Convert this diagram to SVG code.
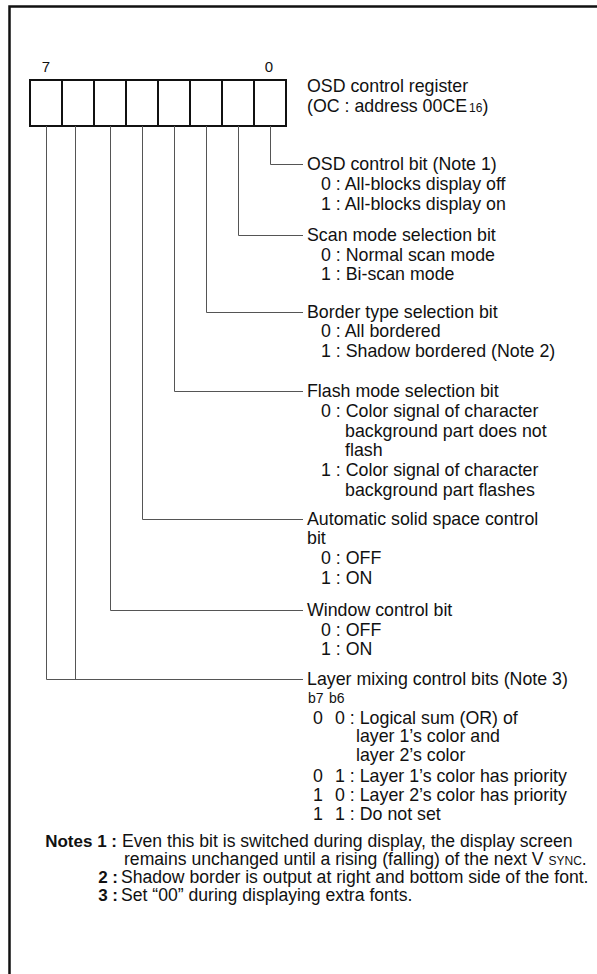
<svg xmlns="http://www.w3.org/2000/svg" width="597" height="974" viewBox="0 0 597 974">
<style>
text{font-family:"Liberation Sans",Arial,sans-serif;font-size:17.8px;fill:#111}
.s{font-size:14px}
.n{font-size:15px}
.sub{font-size:12px}
.b{font-weight:bold;font-size:17px;text-anchor:end}
.nt{font-size:17.6px}
.cell{fill:none;stroke:#111;stroke-width:2}
.ln{fill:none;stroke:#555;stroke-width:1}
</style>
<rect width="597" height="974" fill="#fff"/>
<path d="M9.5,974 V6.5 H597" fill="none" stroke="#111" stroke-width="2.5"/>
<g id="register">
<rect class="cell" x="30" y="80" width="256" height="46"/>
<path class="cell" d="M62,80V126M94,80V126M126,80V126M158,80V126M190,80V126M222,80V126M254,80V126"/>
<text class="n" x="46" y="72" text-anchor="middle">7</text>
<text class="n" x="269" y="72" text-anchor="middle">0</text>
<text x="307" y="92">OSD control register</text>
<text x="307" y="112">(OC : address 00CE<tspan class="sub" dx="2">16</tspan>)</text>
</g>
<g id="connectors">
<path class="ln" d="M270.5,126V164.5H303"/>
<path class="ln" d="M238.5,126V235.5H303"/>
<path class="ln" d="M206.5,126V312.5H303"/>
<path class="ln" d="M174.5,126V391.5H303"/>
<path class="ln" d="M142.5,126V519.5H303"/>
<path class="ln" d="M110.5,126V610.5H303"/>
<path class="ln" d="M75.5,126V679.5"/>
<path class="ln" d="M46.5,126V679.5H303"/>
</g>
<g id="bit0">
<text x="307" y="170">OSD control bit (Note 1)</text>
<text x="321" y="190">0 : All-blocks display off</text>
<text x="321" y="210">1 : All-blocks display on</text>
</g>
<g id="bit1">
<text x="307" y="241">Scan mode selection bit</text>
<text x="321" y="261">0 : Normal scan mode</text>
<text x="321" y="280">1 : Bi-scan mode</text>
</g>
<g id="bit2">
<text x="307" y="318">Border type selection bit</text>
<text x="321" y="337">0 : All bordered</text>
<text x="321" y="357">1 : Shadow bordered (Note 2)</text>
</g>
<g id="bit3">
<text x="307" y="397">Flash mode selection bit</text>
<text x="321" y="417">0 : Color signal of character</text>
<text x="345" y="437">background part does not</text>
<text x="345" y="456">flash</text>
<text x="321" y="476">1 : Color signal of character</text>
<text x="345" y="496">background part flashes</text>
</g>
<g id="bit4">
<text x="307" y="525">Automatic solid space control</text>
<text x="307" y="544">bit</text>
<text x="321" y="564">0 : OFF</text>
<text x="321" y="584">1 : ON</text>
</g>
<g id="bit5">
<text x="307" y="616">Window control bit</text>
<text x="321" y="636">0 : OFF</text>
<text x="321" y="655">1 : ON</text>
</g>
<g id="bit76">
<text x="307" y="685">Layer mixing control bits (Note 3)</text>
<text class="s" x="308" y="703">b7</text>
<text class="s" x="329" y="703">b6</text>
<text x="313" y="724">0</text><text x="335" y="724">0 : Logical sum (OR) of</text>
<text x="356" y="742">layer 1’s color and</text>
<text x="356" y="761">layer 2’s color</text>
<text x="313" y="782">0</text><text x="335" y="782">1 : Layer 1’s color has priority</text>
<text x="313" y="801">1</text><text x="335" y="801">0 : Layer 2’s color has priority</text>
<text x="313" y="820">1</text><text x="335" y="820">1 : Do not set</text>
</g>
<g id="notes">
<text class="b" x="117" y="847">Notes 1 :</text>
<text class="nt" x="122" y="847">Even this bit is switched during display, the display screen</text>
<text class="nt" x="124" y="865">remains unchanged until a rising (falling) of the next V <tspan class="sub">SYNC</tspan>.</text>
<text class="b" x="118" y="883">2 :</text>
<text class="nt" x="121" y="883">Shadow border is output at right and bottom side of the font.</text>
<text class="b" x="118" y="901">3 :</text>
<text class="nt" x="121" y="901">Set “00” during displaying extra fonts.</text>
</g>
</svg>
